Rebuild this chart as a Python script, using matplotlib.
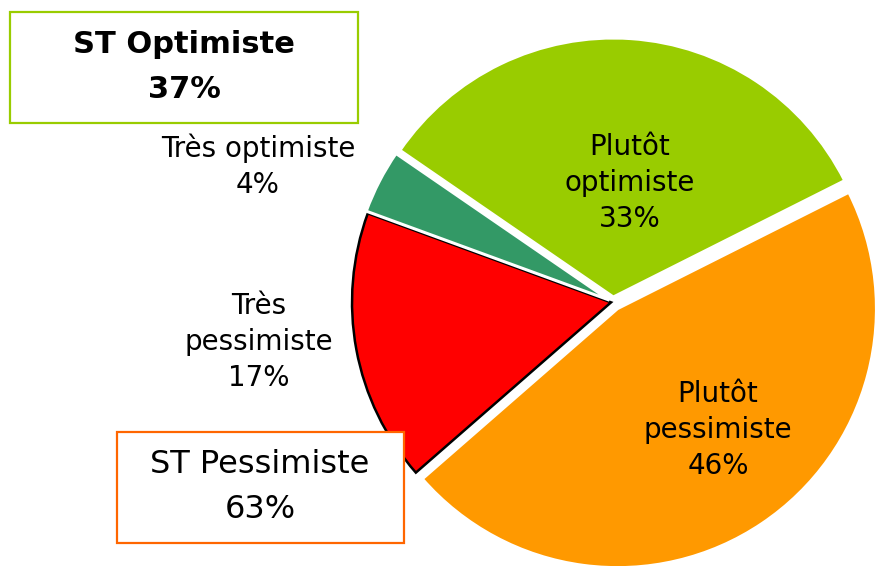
import matplotlib
matplotlib.use("Agg")
import matplotlib.pyplot as plt
from matplotlib.patches import Rectangle

# Survey shares, drawn clockwise starting from "Plutôt optimiste"
categories = ["Plutôt optimiste", "Plutôt pessimiste", "Très pessimiste", "Très optimiste"]
values = [33, 46, 17, 4]
colors = ["#99CC00", "#FF9900", "#FF0000", "#339966"]

# Sub-totals shown in the framed boxes
st_labels = ["ST Optimiste", "ST Pessimiste"]
st_values = [values[0] + values[3], values[1] + values[2]]

W, H = 880, 566
fig = plt.figure(figsize=(W / 100, H / 100), dpi=100)
ax = fig.add_axes([0, 0, 1, 1])

R = 259
cx, cy = 613, H - 302
start = 145.5
# slice offsets (same units as the radius)
offsets = [5, 8, 2, 4]

wedges, _ = ax.pie(values, colors=colors, explode=offsets, startangle=start,
                   counterclock=False, radius=R, center=(cx, cy),
                   wedgeprops=dict(edgecolor="white", linewidth=2.2),
                   frame=True)
ax.set_xlim(0, W)
ax.set_ylim(0, H)
ax.set_aspect("equal")
ax.axis("off")
# the "Très pessimiste" slice carries a dark outline
wedges[2].set_edgecolor("black")
wedges[2].set_linewidth(1.8)

font = "DejaVu Sans"
lbl = dict(ha="center", va="center", fontsize=20, family=font, linespacing=1.36)

ax.text(630, H - 183, "Plutôt\noptimiste\n%d%%" % values[0], **lbl)
ax.text(718, H - 430, "Plutôt\npessimiste\n%d%%" % values[1], **lbl)
ax.text(259, H - 342, "Très\npessimiste\n%d%%" % values[2], **lbl)
ax.text(258, H - 166, "Très optimiste\n%d%%" % values[3], **lbl)

# framed sub-total boxes
ax.add_patch(Rectangle((10, H - 123), 348, 111, fill=False,
                       edgecolor="#99CC00", linewidth=1.6))
ax.text(184, H - 67, "%s\n%d%%" % (st_labels[0], st_values[0]), ha="center",
        va="center", fontsize=22, fontweight="bold", family=font, linespacing=1.68)

ax.add_patch(Rectangle((117, H - 543), 287, 111, facecolor="white",
                       edgecolor="#FF6600", linewidth=1.6, zorder=3))
ax.text(260, H - 487, "%s\n%d%%" % (st_labels[1], st_values[1]), ha="center",
        va="center", fontsize=23, family=font, linespacing=1.59, zorder=4)

fig.savefig("out.png", dpi=100)
